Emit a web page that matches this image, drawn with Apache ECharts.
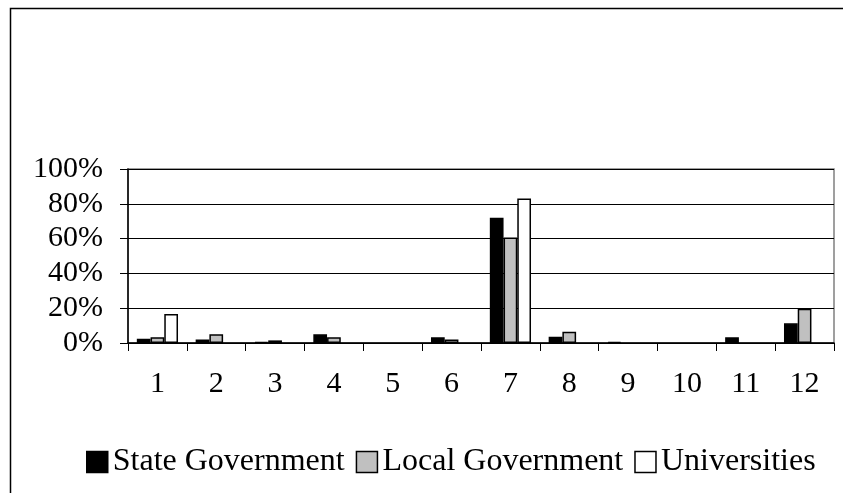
<!DOCTYPE html>
<html>
<head>
<meta charset="utf-8">
<script src="https://cdn.jsdelivr.net/npm/echarts@6/dist/echarts.min.js"></script>
<style>
html,body{margin:0;padding:0;background:#fff;}
#c{width:843px;height:493px;}
</style>
</head>
<body>
<div id="c"></div>
<script>
var categories = ['1','2','3','4','5','6','7','8','9','10','11','12'];
var stateGov = [2.5, 2, 0.6, 5, 0, 3.3, 72, 3.6, 0.7, 0, 3.3, 11.3];
var localGov = [3.3, 5, 1.5, 3.3, 0, 2, 60.7, 6.5, 0, 0, 0, 19.7];
var universities = [16.7, 0, 0, 0, 0, 0, 83, 0, 0, 0, 0, 0];
var seriesNames = ['State Government', 'Local Government', 'Universities'];
var yTicks = [0, 20, 40, 60, 80, 100];

var FONT = '"Liberation Serif", "Times New Roman", serif';
var chart = echarts.init(document.getElementById('c'));
function mk(name, data, color) {
  return {
    name: name, type: 'bar', data: data.map(function(v){ return v === 0 ? null : v; }),
    barGap: '0%', barCategoryGap: '30%',
    itemStyle: {color: color, borderColor: '#000', borderWidth: 1.5},
    emphasis: {disabled: true}
  };
}
chart.setOption({
  animation: false,
  backgroundColor: '#fff',
  graphic: [{
    type: 'rect', shape: {x: 10.5, y: 8.5, width: 900, height: 600},
    style: {fill: 'none', stroke: '#000', lineWidth: 1.5}, silent: true
  }],
  grid: {left: 128, right: 9, top: 169, bottom: 150, show: true, borderColor: '#808080', borderWidth: 1.5, backgroundColor: 'transparent'},
  legend: {
    bottom: 10, left: 81,
    itemWidth: 21, itemHeight: 21, itemGap: 11,
    icon: 'rect',
    textStyle: {fontFamily: FONT, fontSize: 32, color: '#000'},
    data: seriesNames.map(function(n){ return {name: n, itemStyle: {borderColor: '#000', borderWidth: 1.5}}; })
  },
  xAxis: {
    type: 'category', data: categories,
    axisLine: {lineStyle: {color: '#000', width: 1.5}},
    axisTick: {show: true, length: 8, lineStyle: {color: '#000', width: 1}},
    axisLabel: {fontFamily: FONT, fontSize: 30, color: '#000', margin: 26}
  },
  yAxis: {
    type: 'value', min: 0, max: 100, interval: 20,
    axisLine: {show: true, lineStyle: {color: '#000', width: 1.5}},
    axisTick: {show: true, length: 8, lineStyle: {color: '#000', width: 1}},
    splitLine: {show: true, lineStyle: {color: '#000', width: 1}},
    axisLabel: {fontFamily: FONT, fontSize: 30, color: '#000', margin: 25,
      formatter: function(v){ return yTicks.indexOf(v) >= 0 ? v + '%' : ''; }}
  },
  series: [
    mk(seriesNames[0], stateGov, '#000000'),
    mk(seriesNames[1], localGov, '#c0c0c0'),
    mk(seriesNames[2], universities, '#ffffff')
  ]
});
</script>
</body>
</html>
